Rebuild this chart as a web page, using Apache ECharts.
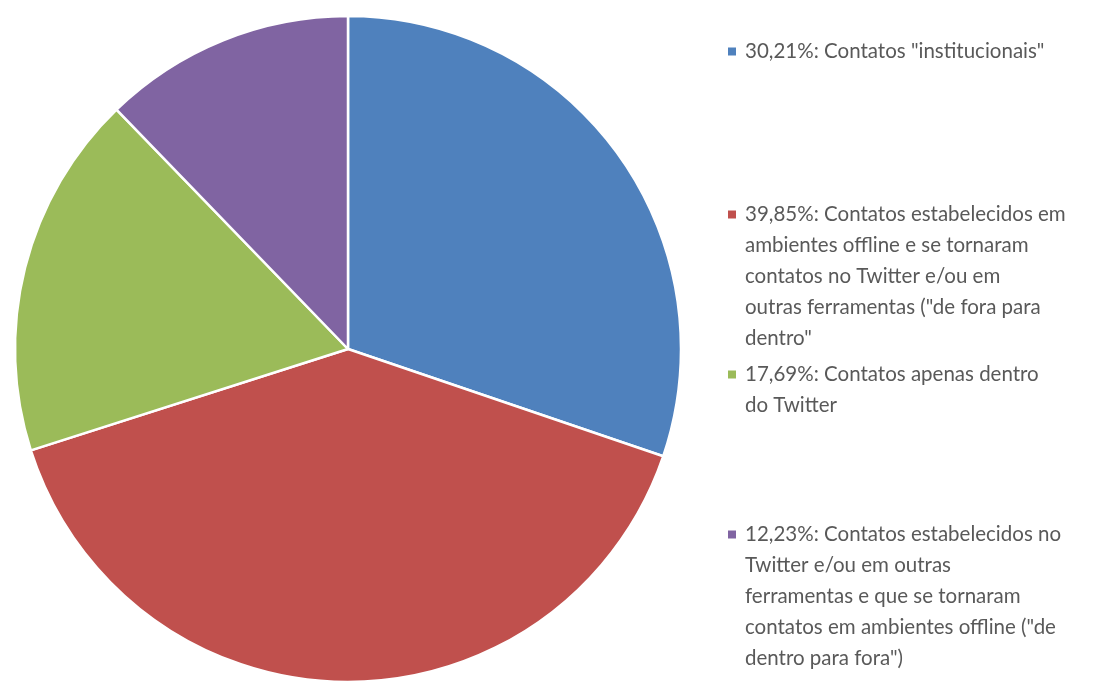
<!DOCTYPE html>
<html>
<head>
<meta charset="utf-8">
<script src="https://cdn.jsdelivr.net/npm/echarts@6/dist/echarts.min.js"></script>
<style>
  html, body { margin: 0; padding: 0; background: #fff; }
  #chart { width: 1093px; height: 681px; }
</style>
</head>
<body>
<div id="chart"></div>
<script>
// slice descriptions (line breaks as in the legend)
const categories = [
  'Contatos "institucionais"',
  'Contatos estabelecidos em\nambientes offline e se tornaram\ncontatos no Twitter e/ou em\noutras ferramentas ("de fora para\ndentro"',
  'Contatos apenas dentro\ndo Twitter',
  'Contatos estabelecidos no\nTwitter e/ou em outras\nferramentas e que se tornaram\ncontatos em ambientes offline ("de\ndentro para fora")'
];
const values = [30.21, 39.85, 17.69, 12.23];
const colors = ['#4F81BD', '#C0504D', '#9BBB59', '#8064A2'];
const legendTops = [41, 204, 364, 524];

const chart = echarts.init(document.getElementById('chart'));

const pct = (v) => v.toFixed(2).replace('.', ',') + '%';

const legends = categories.map((name, i) => ({
  data: [name],
  top: legendTops[i],
  left: 723,
  padding: 0,
  icon: 'none',
  itemWidth: 0,
  itemHeight: 10,
  selectedMode: false,
  formatter: (n) => {
    const lines = n.split('\n');
    return lines
      .map((l, j) =>
        j === 0
          ? '{sq|}{gap|}{t|' + pct(values[i]) + ': ' + l + '}'
          : '{ind|}{t|' + l + '}'
      )
      .join('\n');
  },
  textStyle: {
    rich: {
      sq: { width: 8, height: 8, backgroundColor: colors[i] },
      gap: { width: 9 },
      ind: { width: 17 },
      t: {
        fontFamily: 'Lato',
        fontSize: 20.5,
        lineHeight: 31,
        color: '#595959'
      }
    }
  }
}));

chart.setOption({
  backgroundColor: '#fff',
  animation: false,
  color: colors,
  legend: legends,
  series: [
    {
      type: 'pie',
      center: [348, 349],
      radius: 333,
      startAngle: 90,
      clockwise: true,
      label: { show: false },
      labelLine: { show: false },
      emphasis: { disabled: true },
      itemStyle: { borderColor: '#fff', borderWidth: 2.5 },
      data: categories.map((name, i) => ({ name, value: values[i] }))
    }
  ]
});
</script>
</body>
</html>
